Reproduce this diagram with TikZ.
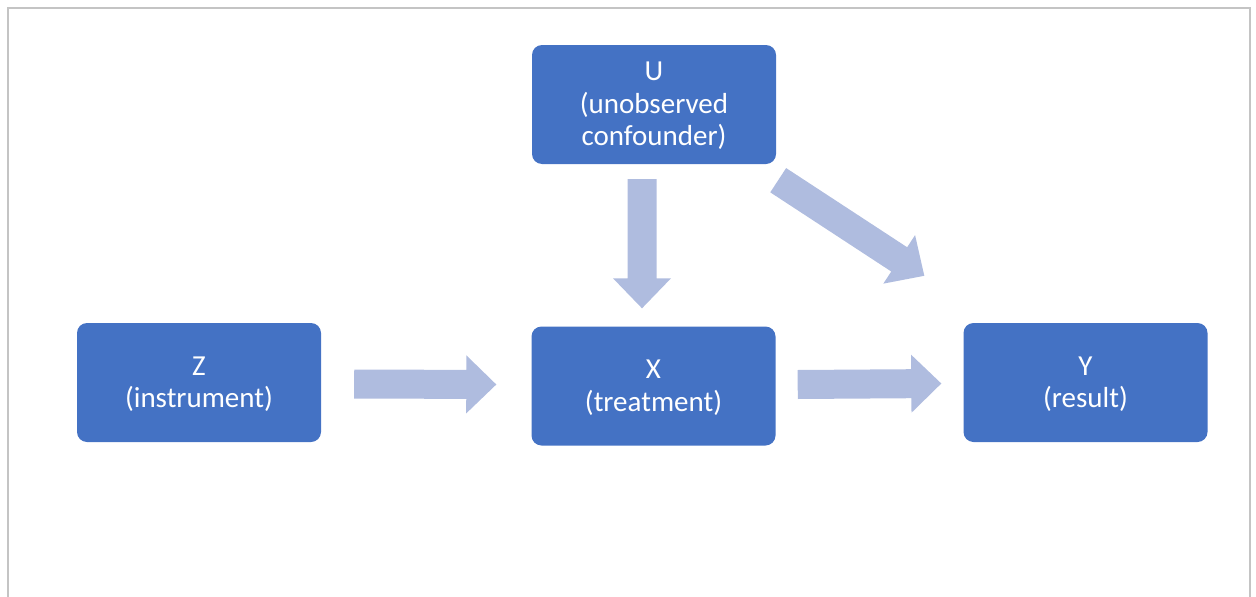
\documentclass[tikz,border=0pt]{standalone}
\usepackage{fontspec}
\setmainfont{Carlito}
\usetikzlibrary{calc}
\definecolor{boxblue}{HTML}{4472C4}
\definecolor{arrowblue}{HTML}{AFBCDF}
\definecolor{framegray}{HTML}{C4C4C4}
\tikzset{
  varbox/.style={fill=boxblue, rounded corners=10pt, minimum width=244pt,
    minimum height=119pt, inner sep=0pt, text=white, align=center,
    text depth=1pt, font=\fontsize{29}{32.5}\selectfont},
  arr/.style={fill=arrowblue},
}
% block arrow from #1 to #2: shaft 29pt wide, head 58pt wide and 30pt long
\newcommand\blockarrow[2]{%
  \coordinate (hb) at ($(#2)!30pt!(#1)$);
  \fill[arr] ($(#1)!14.5pt!90:(#2)$) -- ($(hb)!14.5pt!-90:(#1)$)
    -- ($(hb)!29pt!-90:(#1)$) -- (#2) -- ($(hb)!29pt!90:(#1)$)
    -- ($(hb)!14.5pt!90:(#1)$) -- ($(#1)!14.5pt!-90:(#2)$) -- cycle;}
\begin{document}
\begin{tikzpicture}[x=1pt,y=-1pt]
\useasboundingbox (0,0) rectangle (1256,597);
% open frame
\draw[framegray, line width=2pt] (8,597) -- (8,8) -- (1250,8) -- (1250,597);

% variables
\node[varbox] (U) at (654,104.5) {U\\(unobserved\\confounder)};
\node[varbox] (Z) at (199,382.5) {Z\\(instrument)};
\node[varbox] (X) at (653.5,386) {X\\(treatment)};
\node[varbox] (Y) at (1085.5,382.5) {Y\\(result)};

% arrow end points
\coordinate (zs) at ($(Z.east)+(33,1.5)$);
\coordinate (zt) at ($(X.west)+(-35,-1.5)$);
\coordinate (xs) at ($(X.east)+(22,-1.5)$);
\coordinate (xt) at ($(Y.west)+(-22,1)$);
\coordinate (us) at ($(U.south)+(-12,15)$);
\coordinate (ut) at ($(X.north)+(-11.5,-18)$);
\coordinate (ds) at ($(U.south east)+(2,16)$);
\coordinate (dt) at ($(Y.north west)+(-39,-47)$);

\blockarrow{zs}{zt}
\blockarrow{xs}{xt}
\blockarrow{us}{ut}
\blockarrow{ds}{dt}
\end{tikzpicture}
\end{document}
